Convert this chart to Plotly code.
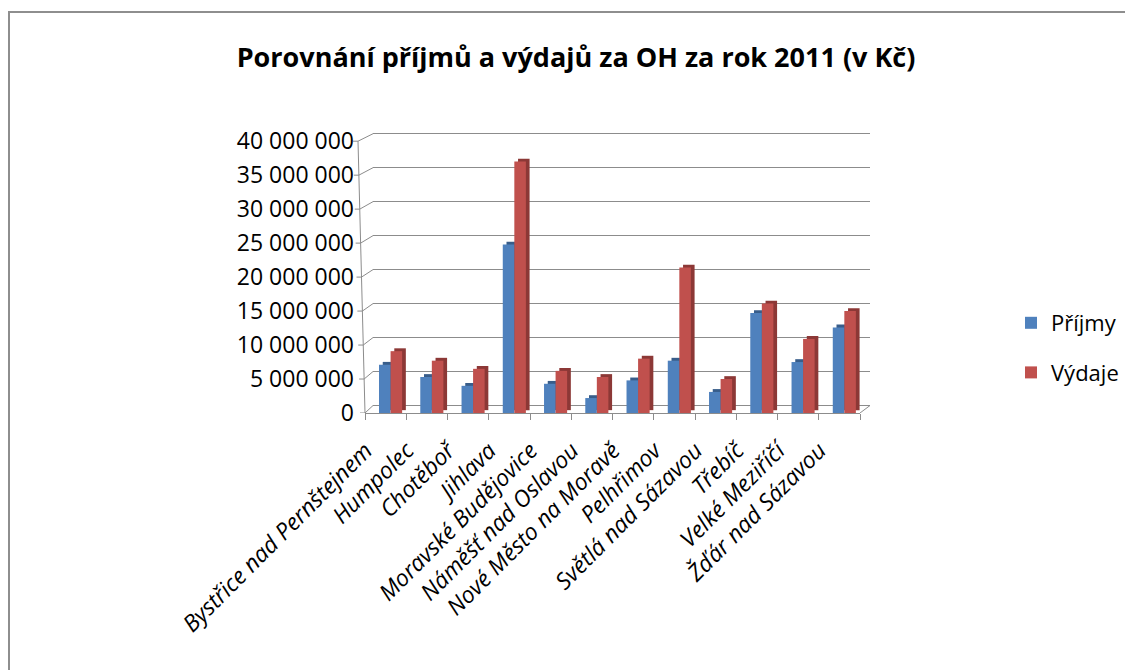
import plotly.graph_objects as go

# ---- data ----
mesta = [
    "Bystřice nad Pernštejnem", "Humpolec", "Chotěboř", "Jihlava",
    "Moravské Budějovice", "Náměšť nad Oslavou", "Nové Město na Moravě",
    "Pelhřimov", "Světlá nad Sázavou", "Třebíč", "Velké Meziříčí",
    "Žďár nad Sázavou",
]
prijmy = [7100000, 5300000, 4000000, 24800000, 4300000, 2200000, 4800000,
          7700000, 3100000, 14700000, 7500000, 12600000]
vydaje = [9100000, 7700000, 6500000, 37000000, 6200000, 5300000, 8000000,
          21400000, 5000000, 16100000, 10900000, 15000000]
tick_vals = [0, 5000000, 10000000, 15000000, 20000000, 25000000, 30000000,
             35000000, 40000000]
series_names = ["Příjmy", "Výdaje"]

# ---- styling ----
FONT = "Open Sans"
BLUE, BLUE_D = "#4F81BD", "#385D8A"
RED, RED_D = "#C0504D", "#8C3836"
GRID = "#8C8C8C"
OFF = 8                                  # page body margin
W, H = 1133 - OFF, 670 - OFF
L, R, T, B = 350 - OFF, 1133 - 870, 131 - OFF, 670 - 413
PW, PH = W - L - R, H - T - B
YMAX = 41500000                          # front (bar) axis range
DEPTH = 1100000                          # back wall offset (in value units)
CAP = 420000                             # 3-D cap height
SIDE = 0.09                              # 3-D side width (category units)
BW = 0.28                                # bar width


def px(xs):
    """screen x -> paper x"""
    return (xs - OFF - L) / PW


def py(ys):
    """screen y -> paper y"""
    return (H - B - (ys - OFF)) / PH


fig = go.Figure()

# dummy trace for the back-wall subplot (gridlines)
fig.add_trace(go.Scatter(x=[None], y=[None], xaxis="x", yaxis="y",
                         showlegend=False, hoverinfo="skip"))

# blue: side/top shading then front face
fig.add_trace(go.Bar(x=mesta, y=prijmy, base=CAP, width=BW, offset=-0.16 + SIDE,
                     marker=dict(color=BLUE_D, line=dict(width=0)),
                     xaxis="x2", yaxis="y2", showlegend=False, hoverinfo="skip"))
fig.add_trace(go.Bar(x=mesta, y=prijmy, name=series_names[0], width=BW,
                     offset=-0.16, marker=dict(color=BLUE, line=dict(width=0)),
                     xaxis="x2", yaxis="y2", legendgroup="a"))
# red: side/top shading then front face
fig.add_trace(go.Bar(x=mesta, y=vydaje, base=CAP, width=BW, offset=0.12 + SIDE,
                     marker=dict(color=RED_D, line=dict(width=0)),
                     xaxis="x2", yaxis="y2", showlegend=False, hoverinfo="skip"))
fig.add_trace(go.Bar(x=mesta, y=vydaje, name=series_names[1], width=BW,
                     offset=0.12, marker=dict(color=RED, line=dict(width=0)),
                     xaxis="x2", yaxis="y2", legendgroup="b"))

shapes = []
# chart border (top + left)
shapes.append(dict(type="line", xref="paper", yref="paper",
                   x0=px(8), x1=px(1140), y0=py(12), y1=py(12),
                   line=dict(color="#8E8E8E", width=2)))
shapes.append(dict(type="line", xref="paper", yref="paper",
                   x0=px(9), x1=px(9), y0=py(12), y1=py(700),
                   line=dict(color="#8E8E8E", width=2)))
# front vertical axis (slight perspective)
shapes.append(dict(type="line", xref="paper", yref="y2",
                   x0=px(365), x1=px(358), y0=0, y1=tick_vals[-1],
                   line=dict(color=GRID, width=1)))
# side-wall diagonals + small tick marks
for v in tick_vals:
    fx = 365 - 7 * v / tick_vals[-1]
    shapes.append(dict(type="line", xref="paper", yref="y2",
                       x0=px(fx), x1=px(373), y0=v, y1=v + DEPTH,
                       line=dict(color=GRID, width=1)))
    shapes.append(dict(type="line", xref="paper", yref="y2",
                       x0=px(fx - 5), x1=px(fx), y0=v, y1=v,
                       line=dict(color=GRID, width=1)))
# floor right diagonal
shapes.append(dict(type="line", xref="paper", yref="y2",
                   x0=px(860), x1=px(870), y0=0, y1=DEPTH,
                   line=dict(color=GRID, width=1)))

fig.update_layout(
    width=W, height=H,
    margin=dict(l=L, r=R, t=T, b=B, pad=0),
    paper_bgcolor="white", plot_bgcolor="rgba(0,0,0,0)",
    separators=", ",
    barmode="overlay",
    font=dict(family=FONT, color="#000000"),
    title=dict(text="<b>Porovnání příjmů a výdajů za OH za rok 2011 (v Kč)</b>",
               x=(576 - OFF) / W, xref="container", xanchor="center",
               y=1 - (58 - OFF) / H, yref="container", yanchor="middle",
               font=dict(family=FONT, size=27, color="#000000")),
    xaxis=dict(domain=[px(373), 1.0], showticklabels=False, ticks="",
               showgrid=False, zeroline=False, showline=False, range=[0, 1]),
    yaxis=dict(domain=[0, 1], range=[-DEPTH, YMAX - DEPTH], tickvals=tick_vals,
               showticklabels=False, ticks="", showgrid=True,
               gridcolor=GRID, gridwidth=1, zeroline=False, showline=False),
    xaxis2=dict(domain=[px(365), px(860)], anchor="y2", type="category",
                tickson="boundaries", ticks="outside", ticklen=6,
                tickcolor=GRID, showgrid=False, showline=True,
                linecolor=GRID, linewidth=1, tickangle=-45,
                ticklabelshift=-20, ticklabelstandoff=14,
                tickfont=dict(family=FONT, size=23, style="italic",
                              color="#000000")),
    yaxis2=dict(domain=[0, 1], anchor="x2", range=[0, YMAX], tickvals=tick_vals,
                tickformat=",d", showgrid=False, zeroline=False,
                showline=False, ticks="", ticklabelstandoff=10,
                tickfont=dict(family=FONT, size=23, color="#000000")),
    legend=dict(x=(1011 - OFF) / W, xref="container", xanchor="left",
                y=1 - (302 - OFF) / H, yref="container", yanchor="top",
                tracegroupgap=18, traceorder="grouped",
                font=dict(family=FONT, size=22, color="#000000"),
                bgcolor="rgba(0,0,0,0)"),
    shapes=shapes,
    showlegend=True,
)

fig.write_html("out.html")
